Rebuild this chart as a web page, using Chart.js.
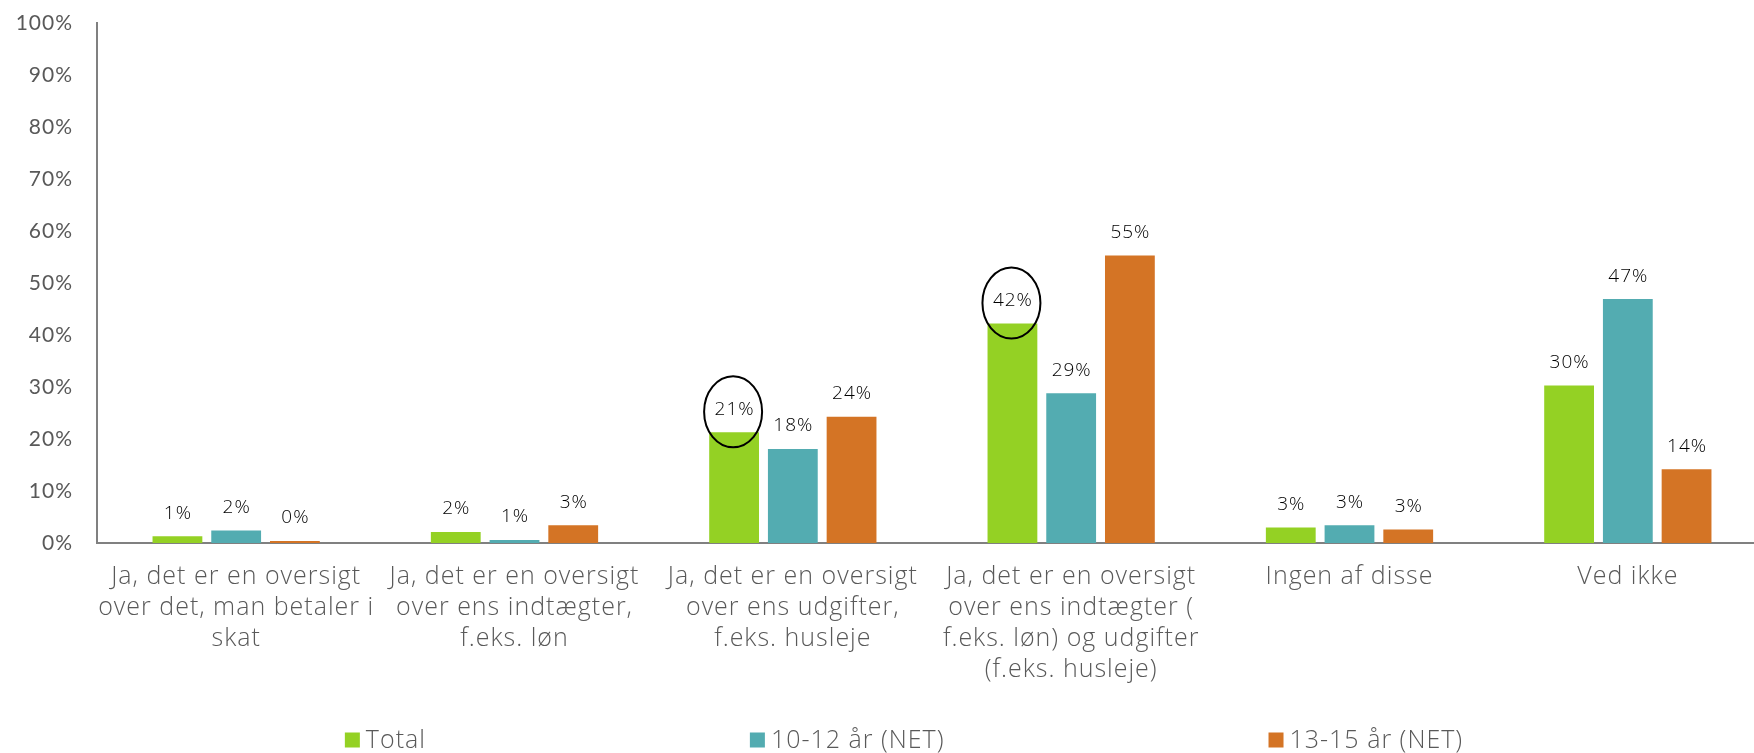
<!DOCTYPE html>
<html><head><meta charset="utf-8">
<script src="https://cdn.jsdelivr.net/npm/chart.js@4.4.0/dist/chart.umd.min.js"></script>
<style>
html,body{margin:0;padding:0;background:#fff;overflow:hidden;width:1754px;height:753px}
#wrap{position:absolute;left:0;top:0;width:1770px;height:753px}
</style>
</head><body><div id="wrap"><canvas id="c"></canvas></div>
<script>
const categories = [
  ["Ja, det er en oversigt","over det, man betaler i","skat"],
  ["Ja, det er en oversigt","over ens indtægter,","f.eks. løn"],
  ["Ja, det er en oversigt","over ens udgifter,","f.eks. husleje"],
  ["Ja, det er en oversigt","over ens indtægter (","f.eks. løn) og udgifter","(f.eks. husleje)"],
  "Ingen af disse",
  "Ved ikke"
];
const seriesNames = ["Total", "10-12 år (NET)", "13-15 år (NET)"];
const totalValues = [1.3, 2.1, 21.3, 42.2, 3.0, 30.3];
const age1012Values = [2.4, 0.6, 18.1, 28.8, 3.4, 46.9];
const age1315Values = [0.4, 3.4, 24.3, 55.3, 2.6, 14.2];
const seriesColors = ["#94D124", "#53ACB1", "#D47425"];
const yTickValues = [0,10,20,30,40,50,60,70,80,90,100];
const circledTotalCategories = [2, 3];

const FONT = "'Open Sans', Lato, sans-serif";
const TICK_FONT = "Lato, 'Open Sans', sans-serif";

const spacing = {
  id: 'spacing',
  beforeDraw(chart) { chart.ctx.letterSpacing = "1px"; }
};

const valueLabels = {
  id: 'valueLabels',
  afterDatasetsDraw(chart) {
    const ctx = chart.ctx;
    ctx.save();
    ctx.letterSpacing = "1px";
    ctx.font = "300 19px " + FONT;
    ctx.fillStyle = "#000";
    ctx.textAlign = "center";
    ctx.textBaseline = "middle";
    chart.data.datasets.forEach((ds, di) => {
      const meta = chart.getDatasetMeta(di);
      meta.data.forEach((bar, i) => {
        const ly = bar.y - 23;
        ctx.fillText(Math.round(ds.data[i]) + "%", bar.x + 0.5, ly);
        if (di === 0 && circledTotalCategories.includes(i)) {
          ctx.beginPath();
          ctx.lineWidth = 2;
          ctx.strokeStyle = "#000";
          ctx.ellipse(bar.x - 1, ly + 2.5, 29, 35.5, 0, 0, Math.PI * 2);
          ctx.stroke();
        }
      });
    });
    ctx.restore();
  }
};

const customLegend = {
  id: 'customLegend',
  afterDraw(chart) {
    const ctx = chart.ctx;
    ctx.save();
    ctx.letterSpacing = "1px";
    ctx.font = "300 25px " + FONT;
    ctx.textBaseline = "middle";
    ctx.textAlign = "left";
    const boxW = 15, boxH = 15, boxGap = 6, gap = 324;
    const items = chart.data.datasets.map(ds => ({
      label: ds.label, color: ds.backgroundColor,
      w: boxW + boxGap + ctx.measureText(ds.label).width
    }));
    const total = items.reduce((s, it) => s + it.w, 0) + gap * (items.length - 1);
    let x = 904 - total / 2;
    const y = 740;
    items.forEach(it => {
      ctx.fillStyle = it.color;
      ctx.fillRect(x, y - boxH / 2, boxW, boxH);
      ctx.fillStyle = "#595959";
      ctx.fillText(it.label, x + boxW + boxGap, y + 1);
      x += it.w + gap;
    });
    ctx.restore();
  }
};

new Chart(document.getElementById('c'), {
  type: 'bar',
  data: {
    labels: categories,
    datasets: [
      { label: seriesNames[0], data: totalValues, backgroundColor: seriesColors[0] },
      { label: seriesNames[1], data: age1012Values, backgroundColor: seriesColors[1] },
      { label: seriesNames[2], data: age1315Values, backgroundColor: seriesColors[2] }
    ]
  },
  options: {
    responsive: true,
    maintainAspectRatio: false,
    animation: false,
    devicePixelRatio: 1,
    layout: { padding: { top: 23, right: 3, left: 0, bottom: 0 } },
    datasets: { bar: { categoryPercentage: 0.633, barPercentage: 0.848 } },
    plugins: { legend: { display: false }, tooltip: { enabled: false } },
    scales: {
      x: {
        grid: { display: false, drawTicks: false },
        border: { display: true, color: "#808080", width: 2 },
        ticks: {
          color: "#595959", maxRotation: 0, autoSkip: false, padding: 18,
          font: { family: FONT, size: 25, weight: 300, lineHeight: 1.24 }
        },
        afterFit(scale) { scale.height = 210; scale.paddingLeft = 0; scale.paddingRight = 0; }
      },
      y: {
        min: 0, max: 100,
        afterBuildTicks(scale) { scale.ticks = yTickValues.map(v => ({ value: v })); },
        grid: { display: false, drawTicks: false },
        border: { display: true, color: "#808080", width: 2 },
        ticks: {
          color: "#595959", padding: 24,
          font: { family: TICK_FONT, size: 21 },
          callback: v => v + "%"
        },
        afterFit(scale) { scale.width = 97; scale.paddingTop = 0; scale.paddingBottom = 0; }
      }
    }
  },
  plugins: [spacing, valueLabels, customLegend]
});
</script>
</body></html>
